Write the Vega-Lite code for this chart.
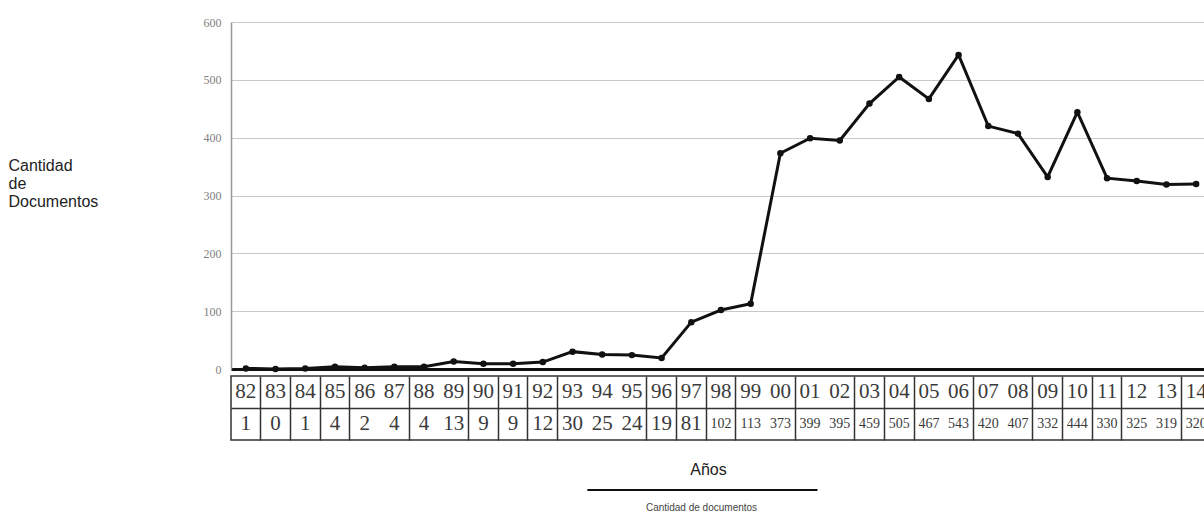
{
  "$schema": "https://vega.github.io/schema/vega-lite/v6.json",
  "background": "white",
  "padding": {"left": 8, "top": 16, "right": 0, "bottom": 0},
  "config": {"view": {"stroke": null}, "font": "Liberation Sans"},
  "datasets": {
    "docs": [
      {"anio": "82", "docs": 1}, {"anio": "83", "docs": 0}, {"anio": "84", "docs": 1},
      {"anio": "85", "docs": 4}, {"anio": "86", "docs": 2}, {"anio": "87", "docs": 4},
      {"anio": "88", "docs": 4}, {"anio": "89", "docs": 13}, {"anio": "90", "docs": 9},
      {"anio": "91", "docs": 9}, {"anio": "92", "docs": 12}, {"anio": "93", "docs": 30},
      {"anio": "94", "docs": 25}, {"anio": "95", "docs": 24}, {"anio": "96", "docs": 19},
      {"anio": "97", "docs": 81}, {"anio": "98", "docs": 102}, {"anio": "99", "docs": 113},
      {"anio": "00", "docs": 373}, {"anio": "01", "docs": 399}, {"anio": "02", "docs": 395},
      {"anio": "03", "docs": 459}, {"anio": "04", "docs": 505}, {"anio": "05", "docs": 467},
      {"anio": "06", "docs": 543}, {"anio": "07", "docs": 420}, {"anio": "08", "docs": 407},
      {"anio": "09", "docs": 332}, {"anio": "10", "docs": 444}, {"anio": "11", "docs": 330},
      {"anio": "12", "docs": 325}, {"anio": "13", "docs": 319}, {"anio": "14", "docs": 320}
    ]
  },
  "spacing": 0,
  "resolve": {"scale": {"x": "independent", "y": "independent"}},
  "vconcat": [
    {
      "width": 980,
      "height": 347,
      "data": {"name": "docs"},
      "encoding": {
        "x": {
          "field": "anio", "type": "ordinal", "sort": null,
          "scale": {"type": "point", "padding": 0.5},
          "axis": {"labels": false, "ticks": false, "grid": false, "title": null, "domainColor": "#111", "domainWidth": 3}
        },
        "y": {
          "field": "docs", "type": "quantitative",
          "scale": {"domain": [0, 600], "nice": false},
          "axis": {
            "values": [0, 100, 200, 300, 400, 500, 600],
            "labelFont": "Liberation Serif", "labelFontSize": 12, "labelColor": "#808080", "labelPadding": 10,
            "ticks": false, "domainColor": "#999", "domainWidth": 1.5,
            "gridColor": "#c8c8c8", "gridWidth": 1.2,
            "title": ["Cantidad", "de", "Documentos"],
            "titleAngle": 0, "titleAlign": "left", "titleBaseline": "top",
            "titleX": -223, "titleY": 135,
            "titleFont": "Liberation Sans", "titleFontSize": 16, "titleFontWeight": "normal",
            "titleColor": "#222", "titleLineHeight": 18
          }
        }
      },
      "layer": [
        {"mark": {"type": "line", "color": "#111", "strokeWidth": 3}},
        {"mark": {"type": "point", "filled": true, "color": "#111", "size": 42, "opacity": 1}}
      ]
    },
    {
      "width": 980,
      "height": 64,
      "view": {"stroke": "#333", "strokeWidth": 1.5},
      "data": {"name": "docs"},
      "encoding": {
        "x": {
          "field": "anio", "type": "ordinal", "sort": null, "bandPosition": 0.5,
          "scale": {"type": "band", "paddingInner": 0, "paddingOuter": 0},
          "axis": {
            "orient": "bottom", "labels": false, "ticks": false, "domain": false,
            "grid": true, "gridColor": "#333", "gridWidth": 1.5, "bandPosition": 0,
            "values": ["83", "84", "85", "86", "88", "90", "91", "92", "93", "96", "97", "98", "99", "01", "03", "04", "05", "07", "09", "10", "11", "12", "14"],
            "title": "Años", "titleFont": "Liberation Sans", "titleFontSize": 16, "titleFontWeight": "normal",
            "titleColor": "#222", "titlePadding": 21, "titleX": 477
          }
        }
      },
      "layer": [
        {
          "mark": {"type": "text", "font": "Liberation Serif", "fontSize": 21, "color": "#3a3a3a", "baseline": "middle"},
          "encoding": {
            "y": {
              "datum": "anio", "type": "nominal", "bandPosition": 0.5,
              "scale": {"domain": ["anio", "docs"], "type": "band", "paddingInner": 0, "paddingOuter": 0},
              "axis": {"labels": false, "ticks": false, "domain": false, "title": null, "grid": true, "gridColor": "#333", "gridWidth": 1.5, "values": ["docs"], "bandPosition": 0}
            },
            "text": {"field": "anio"}
          }
        },
        {
          "mark": {"type": "text", "font": "Liberation Serif", "color": "#3a3a3a", "baseline": "middle"},
          "encoding": {
            "y": {"datum": "docs", "type": "nominal", "bandPosition": 0.5},
            "text": {"field": "docs"},
            "size": {"condition": {"test": "datum.docs >= 100", "value": 14}, "value": 21}
          }
        }
      ]
    },
    {
      "width": 980,
      "height": 24,
      "data": {"values": [{}]},
      "mark": {"type": "rule", "color": "#111", "strokeWidth": 2},
      "encoding": {
        "x": {
          "datum": "94", "type": "ordinal", "bandPosition": 0,
          "scale": {"type": "band", "paddingInner": 0, "paddingOuter": 0,
            "domain": ["82","83","84","85","86","87","88","89","90","91","92","93","94","95","96","97","98","99","00","01","02","03","04","05","06","07","08","09","10","11","12","13","14"]},
          "axis": {
            "labels": false, "ticks": false, "domain": false, "grid": false,
            "title": "Cantidad de documentos", "titleFont": "Liberation Sans", "titleFontSize": 10,
            "titleFontWeight": "normal", "titleColor": "#444", "titleX": 470, "titleY": 0, "titleBaseline": "top"
          }
        },
        "x2": {"datum": "01", "bandPosition": 0.75}
      }
    }
  ]
}
